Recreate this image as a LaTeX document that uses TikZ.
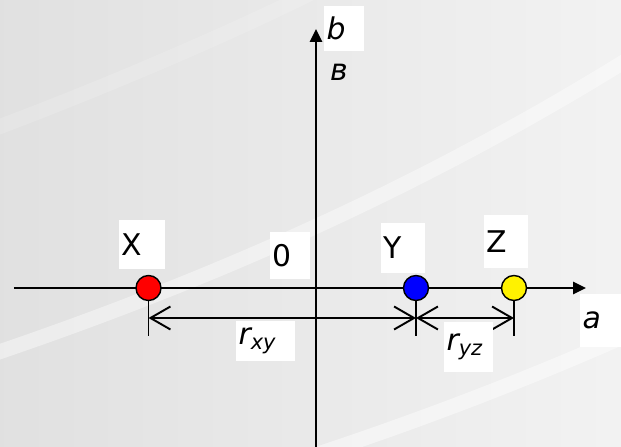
\documentclass[tikz,border=0pt]{standalone}
\usepackage{fontspec}
\setmainfont{DejaVu Sans}
\usetikzlibrary{arrows.meta}

\begin{document}
\begin{tikzpicture}[
    axis/.style={line width=1.5pt, -{Triangle[length=2.6mm, width=2.4mm]}},
    ball/.style={circle, draw, line width=0.8pt, minimum size=0.5cm, inner sep=0pt},
    tick/.style={line width=0.8pt},
    dim/.style={line width=1.1pt, {Straight Barb[length=4mm, width=4.6mm]}-{Straight Barb[length=4mm, width=4.6mm]}},
    lbl/.style={fill=white, align=left, inner xsep=0.05cm, inner ysep=0pt, font=\fontsize{17}{20}\selectfont},
    swoosh/.style={white, line width=0.3cm, line cap=round}
  ]
  % --- 背景 ---
  \useasboundingbox (-6.32,-3.16) rectangle (6.10,5.76);
  \shade[left color=black!12, right color=black!5] (-6.32,-3.16) rectangle (6.10,5.76);
  \draw[swoosh, opacity=0.15] (-6.4,3.2) .. controls (-4,4.1) and (-1.5,5.2) .. (-0.1,5.9);
  \draw[swoosh, opacity=0.4] (-6.4,-1.3) .. controls (-2.2,0.13) and (2.0,1.95) .. (6.2,4.55);
  \draw[swoosh, opacity=0.45] (0.1,-3.3) .. controls (2.5,-2.5) and (4.5,-1.7) .. (6.2,-0.95);

  % 坐标轴
  \coordinate (west) at (-6.04,0);
  \coordinate (east) at (5.40,0);
  \coordinate (south) at (0,-3.2);
  \coordinate (north) at (0,5.18);
  \draw[axis] (west) -- (east);
  \draw[axis] (south) -- (north);

  % 三个点
  \node[ball, fill=red] (X) at (-3.35,0) {};
  \node[ball, fill=blue] (Y) at (2.0,0) {};
  \node[ball, fill=yellow] (Z) at (3.96,0) {};

  % 距离标注
  \draw[tick] (X.south) -- (X |- 0,-0.96);
  \draw[tick] (Y.south) -- (Y |- 0,-0.96);
  \draw[tick] (Z.south) -- (Z |- 0,-0.96);
  \draw[dim] (X |- 0,-0.6) -- (Y |- 0,-0.6);
  \draw[dim] (Y |- 0,-0.6) -- (Z |- 0,-0.6);

  % 文字
  \node[lbl, text width=0.82cm, minimum height=0.98cm] (lblX) at (-3.48,0.87) {X};
  \node[lbl, text width=0.70cm, minimum height=0.94cm] (lblO) at (-0.52,0.65) {0};
  \node[lbl, text width=0.78cm, minimum height=1.00cm] (lblY) at (1.74,0.80) {Y};
  \node[lbl, text width=0.78cm, minimum height=1.06cm] (lblZ) at (3.80,0.93) {Z};
  \node[lbl, text width=0.72cm, minimum height=1.06cm] (lbla) at (5.69,-0.65) {\textit{a}};
  \node[lbl, text width=0.70cm, minimum height=0.90cm] (lblb) at (0.56,5.19) {\textit{b}};
  \node[font=\fontsize{17}{20}\selectfont] (lblv) at (0.46,4.32) {\textit{в}};
  \node[lbl, text width=1.08cm, minimum height=0.80cm] (lblxy) at (-1.01,-1.06) {\textit{r\textsubscript{xy}}};
  \node[lbl, text width=0.88cm, minimum height=1.00cm] (lblyz) at (3.05,-1.18) {\textit{r\textsubscript{yz}}};
\end{tikzpicture}
\end{document}
